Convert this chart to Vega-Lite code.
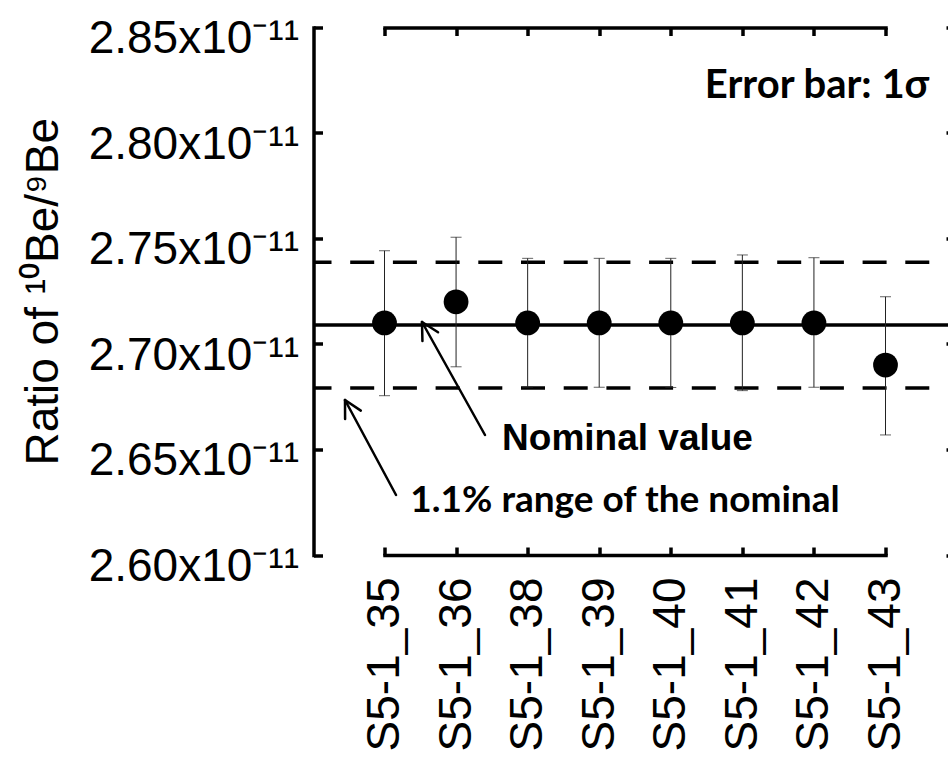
{
  "$schema": "https://vega.github.io/schema/vega-lite/v6.json",
  "width": 634.5,
  "height": 527.5,
  "autosize": {"type": "none"},
  "padding": {"left": 313.5, "top": 27.5, "right": 0, "bottom": 212},
  "background": "white",
  "config": {
    "view": {"stroke": null},
    "font": "Liberation Sans",
    "axis": {"grid": false, "labelColor": "black", "tickColor": "black", "domainColor": "black", "titleColor": "black", "labelLimit": 0}
  },
  "datasets": {
    "samples": [
      {"sample": "S5-1_35", "ratio": 2.71e-11, "lower": 2.6755e-11, "upper": 2.7442e-11},
      {"sample": "S5-1_36", "ratio": 2.72e-11, "lower": 2.6892e-11, "upper": 2.7506e-11},
      {"sample": "S5-1_38", "ratio": 2.71e-11, "lower": 2.6795e-11, "upper": 2.7406e-11},
      {"sample": "S5-1_39", "ratio": 2.71e-11, "lower": 2.6795e-11, "upper": 2.7406e-11},
      {"sample": "S5-1_40", "ratio": 2.71e-11, "lower": 2.6794e-11, "upper": 2.7406e-11},
      {"sample": "S5-1_41", "ratio": 2.71e-11, "lower": 2.6779e-11, "upper": 2.7422e-11},
      {"sample": "S5-1_42", "ratio": 2.71e-11, "lower": 2.6795e-11, "upper": 2.7409e-11},
      {"sample": "S5-1_43", "ratio": 2.69e-11, "lower": 2.6569e-11, "upper": 2.7224e-11}
    ],
    "nominal": [{"ratio": 2.709e-11}],
    "range": [{"bound": "upper", "ratio": 2.7388e-11}, {"bound": "lower", "ratio": 2.6792e-11}],
    "arrows": [
      {"x": 2.396, "y": 2.65687e-11, "x2": 1.516, "y2": 2.71043e-11},
      {"x": 1.516, "y": 2.71043e-11, "x2": 1.522, "y2": 2.70142e-11},
      {"x": 1.516, "y": 2.71043e-11, "x2": 1.740, "y2": 2.70555e-11},
      {"x": 1.153, "y": 2.62844e-11, "x2": 0.440, "y2": 2.67346e-11},
      {"x": 0.440, "y": 2.67346e-11, "x2": 0.4415, "y2": 2.66445e-11},
      {"x": 0.440, "y": 2.67346e-11, "x2": 0.661, "y2": 2.66844e-11}
    ],
    "note_nominal": [{"label": "Nominal value", "x": 4.387, "y": 2.64976e-11}],
    "note_errorbar": [{"label": "Error bar: 1σ", "x": 7.035, "y": 2.81659e-11}],
    "note_range": [{"label": "1.1% range of the nominal", "x": 4.352, "y": 2.62038e-11}]
  },
  "layer": [
    {
      "layer": [
        {
          "data": {"name": "nominal"},
          "mark": {"type": "rule", "color": "black", "strokeWidth": 3.5},
          "encoding": {
            "y": {"field": "ratio", "type": "quantitative", "scale": {"domain": [2.6e-11, 2.85e-11], "nice": false, "zero": false}, "axis": null}
          }
        },
        {
          "data": {"name": "range"},
          "mark": {"type": "rule", "color": "black", "strokeWidth": 3.5, "strokeDash": [24, 18.7], "strokeDashOffset": 24},
          "encoding": {
            "y": {"field": "ratio", "type": "quantitative", "scale": {"domain": [2.6e-11, 2.85e-11], "nice": false, "zero": false}, "axis": null}
          }
        },
        {
          "data": {"name": "samples"},
          "mark": {"type": "rule", "color": "#222", "strokeWidth": 1},
          "encoding": {
            "x": {"field": "sample", "type": "nominal", "sort": null, "scale": {"type": "point", "range": [71, 572], "padding": 0}, "axis": null},
            "y": {"field": "lower", "type": "quantitative", "scale": {"domain": [2.6e-11, 2.85e-11], "nice": false, "zero": false}, "axis": null},
            "y2": {"field": "upper"}
          }
        },
        {
          "data": {"name": "samples"},
          "mark": {"type": "tick", "color": "#222", "size": 11, "thickness": 1},
          "encoding": {
            "x": {"field": "sample", "type": "nominal", "sort": null, "scale": {"type": "point", "range": [71, 572], "padding": 0},
              "axis": {"orient": "top", "labels": false, "title": null, "domain": true, "domainWidth": 3.5, "domainCap": "square", "tickSize": -8, "tickWidth": 3.5}},
            "y": {"field": "lower", "type": "quantitative", "scale": {"domain": [2.6e-11, 2.85e-11], "nice": false, "zero": false}, "axis": null}
          }
        },
        {
          "data": {"name": "samples"},
          "mark": {"type": "tick", "color": "#222", "size": 11, "thickness": 1},
          "encoding": {
            "x": {"field": "sample", "type": "nominal", "sort": null, "scale": {"type": "point", "range": [71, 572], "padding": 0}, "axis": null},
            "y": {"field": "upper", "type": "quantitative", "scale": {"domain": [2.6e-11, 2.85e-11], "nice": false, "zero": false},
              "axis": {"orient": "right", "labels": false, "title": null, "domain": false, "tickSize": -2, "tickWidth": 3.5,
                "values": [2.6e-11, 2.65e-11, 2.7e-11, 2.75e-11, 2.8e-11, 2.85e-11]}}
          }
        },
        {
          "data": {"name": "samples"},
          "mark": {"type": "circle", "color": "black", "opacity": 1, "size": 615},
          "encoding": {
            "x": {"field": "sample", "type": "nominal", "sort": null, "scale": {"type": "point", "range": [71, 572], "padding": 0},
              "axis": {"orient": "bottom", "title": null, "labelAngle": -90, "labelAlign": "right", "labelBaseline": "middle",
                "labelFont": "Liberation Sans", "labelFontSize": 46, "labelPadding": 30, "labelOverlap": false,
                "domain": true, "domainWidth": 3.5, "domainCap": "square", "tickSize": -8, "tickWidth": 3.5}},
            "y": {"field": "ratio", "type": "quantitative", "scale": {"domain": [2.6e-11, 2.85e-11], "nice": false, "zero": false},
              "axis": {"orient": "left", "values": [2.6e-11, 2.65e-11, 2.7e-11, 2.75e-11, 2.8e-11, 2.85e-11],
                "labelExpr": "format(datum.value * 1e11, '.2f') + 'x10⁻¹¹'",
                "labelFont": "Liberation Sans", "labelFontSize": 46, "labelPadding": 24, "labelOffset": 11, "labelOverlap": false, "labelFlush": false,
                "domain": true, "domainWidth": 3.5, "domainCap": "square", "tickSize": -9, "tickWidth": 3.5,
                "title": "Ratio of ¹⁰Be/⁹Be", "titleFont": "Liberation Sans", "titleFontSize": 46, "titleFontWeight": "normal", "titlePadding": 46}}
          }
        }
      ],
      "resolve": {"axis": {"x": "independent", "y": "independent"}}
    },
    {
      "layer": [
        {
          "data": {"name": "arrows"},
          "mark": {"type": "rule", "color": "black", "strokeWidth": 2.5, "strokeCap": "round"},
          "encoding": {
            "x": {"field": "x", "type": "quantitative", "scale": {"domain": [0, 8.865], "nice": false, "zero": false}, "axis": null},
            "x2": {"field": "x2"},
            "y": {"field": "y", "type": "quantitative", "scale": {"domain": [2.6e-11, 2.85e-11], "nice": false, "zero": false}, "axis": null},
            "y2": {"field": "y2"}
          }
        },
        {
          "data": {"name": "note_nominal"},
          "mark": {"type": "text", "font": "Liberation Sans", "fontWeight": "bold", "fontSize": 37, "align": "center", "baseline": "alphabetic", "color": "black"},
          "encoding": {
            "x": {"field": "x", "type": "quantitative", "scale": {"domain": [0, 8.865], "nice": false, "zero": false}, "axis": null},
            "y": {"field": "y", "type": "quantitative", "scale": {"domain": [2.6e-11, 2.85e-11], "nice": false, "zero": false}, "axis": null},
            "text": {"field": "label"}
          }
        },
        {
          "data": {"name": "note_errorbar"},
          "mark": {"type": "text", "font": "Lato", "fontWeight": "bold", "fontSize": 40, "align": "center", "baseline": "alphabetic", "color": "black"},
          "encoding": {
            "x": {"field": "x", "type": "quantitative", "scale": {"domain": [0, 8.865], "nice": false, "zero": false}, "axis": null},
            "y": {"field": "y", "type": "quantitative", "scale": {"domain": [2.6e-11, 2.85e-11], "nice": false, "zero": false}, "axis": null},
            "text": {"field": "label"}
          }
        },
        {
          "data": {"name": "note_range"},
          "mark": {"type": "text", "font": "Lato", "fontWeight": "bold", "fontSize": 37, "align": "center", "baseline": "alphabetic", "color": "black"},
          "encoding": {
            "x": {"field": "x", "type": "quantitative", "scale": {"domain": [0, 8.865], "nice": false, "zero": false}, "axis": null},
            "y": {"field": "y", "type": "quantitative", "scale": {"domain": [2.6e-11, 2.85e-11], "nice": false, "zero": false}, "axis": null},
            "text": {"field": "label"}
          }
        }
      ]
    }
  ],
  "resolve": {"scale": {"x": "independent"}}
}
